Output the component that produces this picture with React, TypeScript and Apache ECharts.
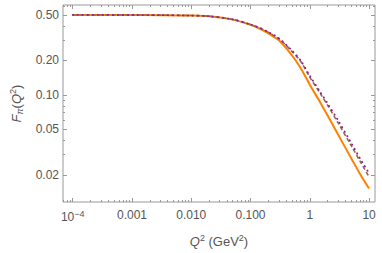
import React, { useEffect, useRef } from "react";
import * as echarts from "echarts";

const q2 = [0.0001, 0.001, 0.003, 0.01, 0.02, 0.05, 0.1, 0.15, 0.2, 0.3, 0.5, 0.7, 1, 1.5, 2, 3, 5, 7, 10];
const fOrange = [0.5, 0.4995, 0.498, 0.494, 0.486, 0.455, 0.41, 0.375, 0.345, 0.3, 0.222, 0.172, 0.123, 0.086, 0.066, 0.045, 0.028, 0.0205, 0.0152];
const fDashed = [0.5, 0.4995, 0.498, 0.494, 0.487, 0.457, 0.413, 0.38, 0.352, 0.31, 0.24, 0.197, 0.143, 0.103, 0.081, 0.057, 0.036, 0.0265, 0.0192];
const fDotted = [0.5, 0.4995, 0.498, 0.494, 0.487, 0.457, 0.413, 0.381, 0.354, 0.313, 0.244, 0.2, 0.147, 0.106, 0.084, 0.06, 0.038, 0.028, 0.0207];

const xMajor = [0.0001, 0.001, 0.01, 0.1, 1, 10];
const xMajorLabels = ["10^-4", "0.001", "0.010", "0.100", "1", "10"];
const yMajor = [0.02, 0.05, 0.1, 0.2, 0.5];
const yMajorLabels = ["0.02", "0.05", "0.10", "0.20", "0.50"];
const xMinor: number[] = [];
for (let e = -5; e <= 1; e++) for (let m = 2; m <= 9; m++) xMinor.push(m * Math.pow(10, e));
const yMinor = [0.03, 0.04, 0.06, 0.07, 0.08, 0.09, 0.3, 0.4, 0.6, 0.7, 0.8, 0.9];

const L = Math.log10;
const X_MIN = -4.164, X_MAX = 1.1;
const Y_MIN = -1.936, Y_MAX = -0.214;

const FONT = "'Liberation Sans', Arial, sans-serif";
const LABEL_COLOR = "#555";
const FRAME = "#999";

export default function App() {
  const ref = useRef<HTMLDivElement>(null);
  useEffect(() => {
    const chart = echarts.init(ref.current!, null, { renderer: "svg" });
    const xLabelMap: Record<string, string> = {};
    xMajor.forEach((v, i) => (xLabelMap[L(v).toFixed(3)] = xMajorLabels[i]));
    const yLabelMap: Record<string, string> = {};
    yMajor.forEach((v, i) => (yLabelMap[L(v).toFixed(3)] = yMajorLabels[i]));

    const mkX = (pos: "bottom" | "top", vals: number[], len: number, labels: boolean, name?: boolean) => ({
      type: "value",
      position: pos,
      min: X_MIN,
      max: X_MAX,
      gridIndex: 0,
      axisLine: { show: false, onZero: false },
      splitLine: { show: false },
      axisTick: { show: true, inside: true, length: len, customValues: vals.map(L), lineStyle: { color: FRAME, width: 1 } },
      axisLabel: labels
        ? {
            show: true,
            customValues: xMajor.map(L),
            margin: 7,
            formatter: (v: number) => {
              const s = xLabelMap[v.toFixed(3)] || "";
              if (s === "10^-4") return "{a|10}{b|−4}";
              return "{a|" + s + "}";
            },
            rich: {
              a: { fontFamily: FONT, fontSize: 12, color: LABEL_COLOR },
              b: { fontFamily: FONT, fontSize: 9, color: LABEL_COLOR, padding: [0, 0, 7, 0] },
            },
          }
        : { show: false },
      name: name ? "{i|Q}{s|2}{n| (GeV}{s|2}{n|)}" : "",
      nameLocation: "middle",
      nameGap: 31,
      nameTextStyle: {
        rich: {
          i: { fontFamily: FONT, fontSize: 13, fontStyle: "italic", color: LABEL_COLOR },
          n: { fontFamily: FONT, fontSize: 13, color: LABEL_COLOR },
          s: { fontFamily: FONT, fontSize: 9, color: LABEL_COLOR, padding: [0, 0, 8, 0] },
        },
      },
    });
    const mkY = (pos: "left" | "right", vals: number[], len: number, labels: boolean, name?: boolean) => ({
      type: "value",
      position: pos,
      min: Y_MIN,
      max: Y_MAX,
      gridIndex: 0,
      axisLine: { show: false, onZero: false },
      splitLine: { show: false },
      axisTick: { show: true, inside: true, length: len, customValues: vals.map(L), lineStyle: { color: FRAME, width: 1 } },
      axisLabel: labels
        ? {
            show: true,
            customValues: yMajor.map(L),
            margin: 4,
            fontFamily: FONT,
            fontSize: 12,
            color: LABEL_COLOR,
            formatter: (v: number) => yLabelMap[v.toFixed(3)] || "",
          }
        : { show: false },
      name: name ? "{i|F}{u|π}{n|(}{i|Q}{s|2}{n|)}" : "",
      nameLocation: "middle",
      nameGap: 38,
      nameRotate: 90,
      nameTextStyle: {
        rich: {
          i: { fontFamily: FONT, fontSize: 13, fontStyle: "italic", color: LABEL_COLOR },
          n: { fontFamily: FONT, fontSize: 13, color: LABEL_COLOR },
          u: { fontFamily: FONT, fontSize: 9, fontStyle: "italic", color: LABEL_COLOR, padding: [6, 0, 0, 0] },
          s: { fontFamily: FONT, fontSize: 9, color: LABEL_COLOR, padding: [0, 0, 8, 0] },
        },
      },
    });

    const mk = (arr: number[]) => q2.map((x, i) => [L(x), L(arr[i])]);

    chart.setOption({
      animation: false,
      grid: { left: 54, right: 7, top: 5, bottom: 51, show: true, borderColor: FRAME, borderWidth: 1, backgroundColor: "transparent" },
      xAxis: [
        mkX("bottom", xMajor, 4, true, true),
        mkX("bottom", xMinor, 2, false),
        mkX("top", xMajor, 4, false),
        mkX("top", xMinor, 2, false),
      ],
      yAxis: [
        mkY("left", yMajor, 4, true, true),
        mkY("left", yMinor, 2, false),
        mkY("right", yMajor, 4, false),
        mkY("right", yMinor, 2, false),
      ],
      series: [
        {
          type: "line",
          data: mk(fOrange),
          showSymbol: false,
          smooth: 0.3,
          lineStyle: { color: "#ff8000", width: 2 },
          z: 2,
        },
        {
          type: "line",
          data: mk(fDashed),
          showSymbol: false,
          smooth: 0.3,
          lineStyle: { color: "#9a6a3e", width: 1.6, type: [4, 2.5] },
          z: 3,
        },
        {
          type: "line",
          data: mk(fDotted),
          showSymbol: false,
          smooth: 0.3,
          lineStyle: { color: "#8a1ea8", width: 1.8, type: [0.5, 4.5], cap: "round" },
          z: 4,
        },
      ],
    });
    return () => chart.dispose();
  }, []);
  return <div ref={ref} style={{ width: 382, height: 253, position: "absolute", left: 0, top: 0 }} />;
}
